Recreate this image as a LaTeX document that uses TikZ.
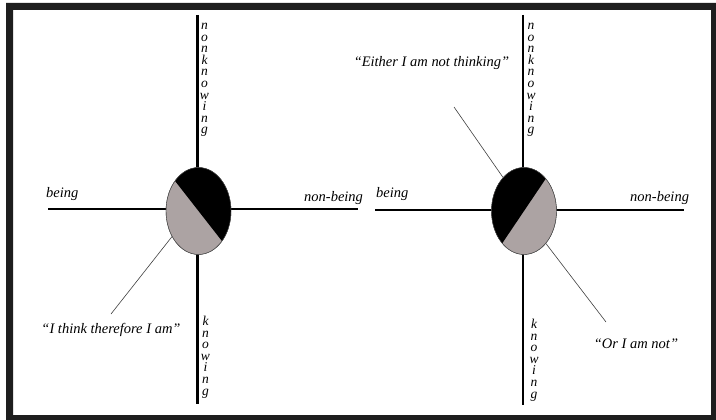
\documentclass[tikz,border=0pt]{standalone}
\usepackage{fontspec}
\setmainfont{Liberation Serif}
\usepackage{tikz}
\usetikzlibrary{shapes.geometric, positioning, calc}

\definecolor{diskgray}{RGB}{172,163,163}
\definecolor{framegray}{RGB}{30,30,30}

\begin{document}
\begin{tikzpicture}[
    x=1pt, y=-1pt,
    axis/.style={line width=2.6pt, black},
    disk/.style={draw=black!70, line width=0.4pt, ellipse, minimum width=65pt, minimum height=87pt, inner sep=0pt, fill=diskgray},
    pointer/.style={draw=black!75, line width=0.6pt},
    label/.style={font=\fontsize{14.5}{16}\selectfont\itshape, inner sep=0pt},
    letters/.style={font=\fontsize{13.5}{11.6}\selectfont\itshape, align=center, inner sep=0pt, anchor=north}
]

    % ================= FRAME =================
    \useasboundingbox (0,0) rectangle (716,420);
    \fill[white] (0,0) rectangle (716,420);
    \fill[framegray, even odd rule] (6,3) rectangle (716,420) (13,10) rectangle (711,415);

    % ================= AXES =================
    \coordinate (lt) at (197.5,15);
    \coordinate (lb) at (197.5,404);
    \coordinate (ll) at (48,209);
    \coordinate (lr) at (358,209);

    \coordinate (rt) at (523,15);
    \coordinate (rb) at (523,405);
    \coordinate (rl) at (375,210);
    \coordinate (rr) at (684,210);

    \draw[axis] (lt) -- (lb);
    \draw[axis] (ll) -- (lr);
    \draw[axis] (rt) -- (rb);
    \draw[axis] (rl) -- (rr);

    % ================= DISKS =================
    \node[disk] (ldisk) at (198.5,211) {};
    \node[disk] (rdisk) at (524,211) {};

    % black halves
    \begin{scope}
        \clip (ldisk.center) ellipse [x radius=32.5, y radius=43.5];
        \fill[black] (ldisk.128) -- (ldisk.-52) -- ++(60,0) -- ++(0,-150) -- ++(-120,0) -- cycle;
    \end{scope}
    \begin{scope}
        \clip (rdisk.center) ellipse [x radius=32.5, y radius=43.5];
        \fill[black] (rdisk.56) -- (rdisk.236) -- ++(-60,0) -- ++(0,-150) -- ++(120,0) -- cycle;
    \end{scope}
    \draw[draw=black!70, line width=0.4pt] (ldisk.center) ellipse [x radius=32.5, y radius=43.5];
    \draw[draw=black!70, line width=0.4pt] (rdisk.center) ellipse [x radius=32.5, y radius=43.5];

    % ================= AXIS LABELS =================
    \node[label, anchor=base west] (lbeing) at (46,197) {being};
    \node[label, anchor=base west] (lnonbeing) at (304,201) {non-being};
    \node[label, anchor=base west] (rbeing) at (376,197) {being};
    \node[label, anchor=base west] (rnonbeing) at (630,201) {non-being};

    \node[letters] (lnonknow) at (204.5,23) {n\\o\\n\\k\\n\\o\\w\\i\\n\\g};
    \node[letters] (lknow) at (205.5,316) {k\\n\\o\\w\\i\\n\\g};
    \node[letters] (rnonknow) at (531,23) {n\\o\\n\\k\\n\\o\\w\\i\\n\\g};
    \node[letters] (rknow) at (534,319) {k\\n\\o\\w\\i\\n\\g};

    % ================= QUOTES =================
    \coordinate (lq) at (111,314);
    \coordinate (rq1) at (454,107);
    \coordinate (rq2) at (606,322);

    \draw[pointer] (ldisk.224) -- (lq);
    \draw[pointer] (rdisk.122) -- (rq1);
    \draw[pointer] (rdisk.-56) -- (rq2);

    \node[label, anchor=base] (think) at (111,333) {“I think therefore I am”};
    \node[label, anchor=base] (either) at (431.5,67) {“Either I am not thinking”};
    \node[label, anchor=base] (ornot) at (636,348) {“Or I am not”};

\end{tikzpicture}
\end{document}
